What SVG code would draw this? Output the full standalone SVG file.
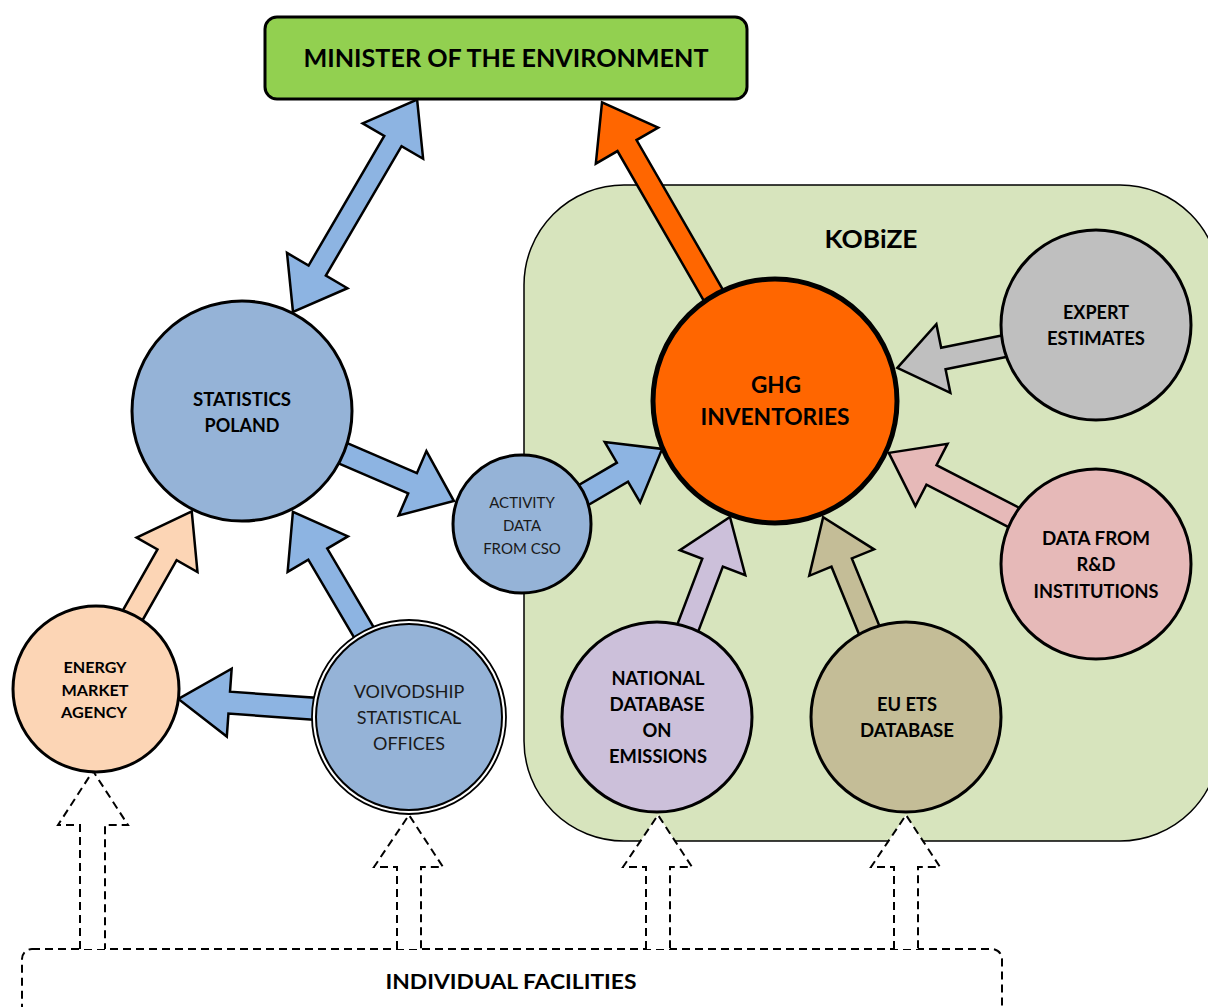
<svg xmlns="http://www.w3.org/2000/svg" width="1208" height="1007" viewBox="0 0 1208 1007">
<style>
.t{font-family:Lato,"Liberation Sans",sans-serif;text-anchor:middle;fill:#000}
.b{font-weight:bold}
.n{font-weight:normal;fill:#1a1a1a}
.arr{stroke:#000;stroke-width:2.5;stroke-linejoin:miter}
.node{stroke:#000;stroke-width:3}
.dash{fill:#fff;stroke:#000;stroke-width:2;stroke-dasharray:8 5}
</style>
<rect width="1208" height="1007" fill="#fff"/>
<g id="kobize">
<rect x="524" y="185" width="696" height="656" rx="100" ry="100" fill="#D7E4BD" stroke="#000" stroke-width="1.5"/>
<text class="t b" x="871" y="248" font-size="24" textLength="93" lengthAdjust="spacingAndGlyphs">KOBiZE</text>
</g>
<g id="minister">
<rect x="265" y="17" width="482" height="82" rx="12" ry="12" fill="#92D050" stroke="#000" stroke-width="3"/>
<text class="t b" x="506" y="67" font-size="24" textLength="405" lengthAdjust="spacingAndGlyphs">MINISTER OF THE ENVIRONMENT</text>
</g>
<g id="individual-facilities">
<rect x="22" y="949" width="980" height="90" rx="10" ry="10" class="dash"/>
<text class="t b" x="511" y="989" font-size="21" textLength="251" lengthAdjust="spacingAndGlyphs">INDIVIDUAL FACILITIES</text>
</g>
<g id="connectors">
<path class="dash" d="M80,949 V825 H58 L93,771 L128,825 H105 V949"/>
<path class="dash" d="M397,949 V867 H374 L409,815 L443,867 H421 V949"/>
<path class="dash" d="M646,949 V867 H623 L658,815 L692,867 H670 V949"/>
<path class="dash" d="M894,949 V867 H871 L906,815 L940,867 H918 V949"/>
<polygon class="arr" fill="#8DB4E2" transform="translate(293,312) rotate(-59.7)" points="0,0 48,-35 48,-10 198,-10 198,-35 246,0 198,35 198,10 48,10 48,35"/>
<polygon class="arr" fill="#FF6600" transform="translate(715,298) rotate(-120)" points="0,-11 176,-11 176,-36 226,0 176,36 176,11 0,11"/>
<polygon class="arr" fill="#8DB4E2" transform="translate(340,452) rotate(23.3)" points="0,-11 79,-11 79,-35 124,0 79,35 79,11 0,11"/>
<polygon class="arr" fill="#8DB4E2" transform="translate(575,500) rotate(-30.4)" points="0,-11 55,-11 55,-35 101,0 55,35 55,11 0,11"/>
<polygon class="arr" fill="#BFBFBF" transform="translate(1010,345) rotate(168.5)" points="0,-11 68,-11 68,-35 115,0 68,35 68,11 0,11"/>
<polygon class="arr" fill="#E6B9B8" transform="translate(1015,518) rotate(-152.7)" points="0,-11 94,-11 94,-35 142,0 94,35 94,11 0,11"/>
<polygon class="arr" fill="#CCC0DA" transform="translate(687,630) rotate(-69.2)" points="0,-11 72,-11 72,-35 121,0 72,35 72,11 0,11"/>
<polygon class="arr" fill="#C4BD97" transform="translate(870,632) rotate(-112.2)" points="0,-11 75,-11 75,-35 124,0 75,35 75,11 0,11"/>
<polygon class="arr" fill="#8DB4E2" transform="translate(366,636) rotate(-120.5)" points="0,-11 95,-11 95,-35 144,0 95,35 95,11 0,11"/>
<polygon class="arr" fill="#FCD5B5" transform="translate(130,620) rotate(-60.4)" points="0,-11 75,-11 75,-35 125,0 75,35 75,11 0,11"/>
<polygon class="arr" fill="#8DB4E2" transform="translate(318,709) rotate(-175.9)" points="0,-11 89,-11 89,-34 140,0 89,34 89,11 0,11"/>
</g>
<g id="statistics-poland">
<circle class="node" cx="242" cy="411" r="110" fill="#95B3D7"/>
<text class="t b" x="242" y="406" font-size="18" textLength="98" lengthAdjust="spacingAndGlyphs">STATISTICS</text>
<text class="t b" x="242" y="432" font-size="18" textLength="75" lengthAdjust="spacingAndGlyphs">POLAND</text>
</g>
<g id="activity-data">
<circle class="node" cx="522" cy="524" r="69" fill="#95B3D7"/>
<text class="t n" x="522" y="508" font-size="15">ACTIVITY</text>
<text class="t n" x="522" y="531" font-size="15">DATA</text>
<text class="t n" x="522" y="554" font-size="15">FROM CSO</text>
</g>
<g id="ghg-inventories">
<circle cx="775" cy="401" r="122" fill="#FF6600" stroke="#000" stroke-width="5"/>
<text class="t b" x="776" y="393" font-size="22" textLength="50" lengthAdjust="spacingAndGlyphs">GHG</text>
<text class="t b" x="775" y="425" font-size="22" textLength="149" lengthAdjust="spacingAndGlyphs">INVENTORIES</text>
</g>
<g id="expert-estimates">
<circle class="node" cx="1096" cy="325" r="95" fill="#BFBFBF"/>
<text class="t b" x="1096" y="319" font-size="18" textLength="66" lengthAdjust="spacingAndGlyphs">EXPERT</text>
<text class="t b" x="1096" y="345" font-size="18" textLength="98" lengthAdjust="spacingAndGlyphs">ESTIMATES</text>
</g>
<g id="rd-institutions">
<circle class="node" cx="1096" cy="564" r="95" fill="#E6B9B8"/>
<text class="t b" x="1096" y="545" font-size="18" textLength="108" lengthAdjust="spacingAndGlyphs">DATA FROM</text>
<text class="t b" x="1096" y="571" font-size="18" textLength="39" lengthAdjust="spacingAndGlyphs">R&amp;D</text>
<text class="t b" x="1096" y="598" font-size="18" textLength="125" lengthAdjust="spacingAndGlyphs">INSTITUTIONS</text>
</g>
<g id="eu-ets">
<circle class="node" cx="906" cy="717" r="95" fill="#C4BD97"/>
<text class="t b" x="907" y="711" font-size="18" textLength="60" lengthAdjust="spacingAndGlyphs">EU ETS</text>
<text class="t b" x="907" y="737" font-size="18" textLength="94" lengthAdjust="spacingAndGlyphs">DATABASE</text>
</g>
<g id="national-database">
<circle class="node" cx="657" cy="717" r="95" fill="#CCC0DA"/>
<text class="t b" x="658" y="685" font-size="18" textLength="93" lengthAdjust="spacingAndGlyphs">NATIONAL</text>
<text class="t b" x="657" y="711" font-size="18" textLength="95" lengthAdjust="spacingAndGlyphs">DATABASE</text>
<text class="t b" x="657" y="737" font-size="18" textLength="29" lengthAdjust="spacingAndGlyphs">ON</text>
<text class="t b" x="658" y="763" font-size="18" textLength="98" lengthAdjust="spacingAndGlyphs">EMISSIONS</text>
</g>
<g id="voivodship-offices">
<circle cx="409" cy="717" r="97" fill="#fff" stroke="#000" stroke-width="1.8"/>
<circle cx="409" cy="717" r="93" fill="#95B3D7" stroke="#000" stroke-width="2"/>
<text class="t n" x="409" y="698" font-size="18">VOIVODSHIP</text>
<text class="t n" x="409" y="724" font-size="18">STATISTICAL</text>
<text class="t n" x="409" y="750" font-size="18">OFFICES</text>
</g>
<g id="energy-market-agency">
<circle class="node" cx="96" cy="689" r="83" fill="#FCD5B5"/>
<text class="t b" x="95" y="673" font-size="15.5" textLength="63" lengthAdjust="spacingAndGlyphs">ENERGY</text>
<text class="t b" x="95" y="696" font-size="15.5" textLength="67" lengthAdjust="spacingAndGlyphs">MARKET</text>
<text class="t b" x="94" y="718" font-size="15.5" textLength="66" lengthAdjust="spacingAndGlyphs">AGENCY</text>
</g>
</svg>
